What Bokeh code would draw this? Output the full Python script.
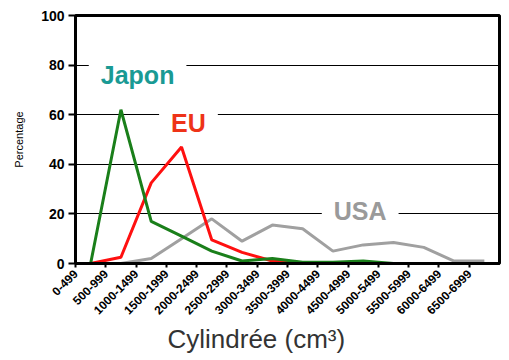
from bokeh.plotting import figure
from bokeh.models import Range1d, FixedTicker, Label, Title
from bokeh.embed import file_html
from bokeh.resources import INLINE
from math import pi

categories = ["0-499", "500-999", "1000-1499", "1500-1999", "2000-2499",
              "2500-2999", "3000-3499", "3500-3999", "4000-4499", "4500-4999",
              "5000-5499", "5500-5999", "6000-6499", "6500-6999"]
japon = [0, 62, 17, 11, 5, 1, 2, 0.5, 0.5, 1, 0, 0, 0, 0]
eu = [0, 2.5, 32.5, 47, 9.5, 4.5, 1, 0, 0, 0, 0, 0, 0, 0]
usa = [0, 0, 2, 10, 18, 9, 15.5, 14, 5, 7.5, 8.5, 6.5, 1, 1]
y_ticks = [0, 20, 40, 60, 80, 100]

xs = [i + 0.5 for i in range(len(categories))]
FONT = "Liberation Sans"

p = figure(output_backend="svg", toolbar_location=None,
           frame_width=424, frame_height=248,
           min_border_left=75, min_border_right=2, min_border_top=15, min_border_bottom=80,
           x_range=Range1d(0, len(categories)), y_range=Range1d(0, 100))
p.background_fill_color = "white"
p.border_fill_color = "white"
p.outline_line_color = "black"
p.outline_line_width = 3

# grid
p.xgrid.grid_line_color = None
p.ygrid.ticker = FixedTicker(ticks=y_ticks)
p.ygrid.grid_line_color = "black"
p.ygrid.grid_line_width = 1

# y axis
p.yaxis.ticker = FixedTicker(ticks=y_ticks)
p.yaxis.axis_line_width = 3
p.yaxis.major_tick_out = 7
p.yaxis.major_tick_in = 0
p.yaxis.major_tick_line_width = 2
p.yaxis.minor_tick_line_color = None
p.yaxis.major_label_text_font = FONT
p.yaxis.major_label_text_font_style = "bold"
p.yaxis.major_label_text_font_size = "14px"
p.yaxis.major_label_text_color = "black"
p.yaxis.major_label_standoff = 4
p.yaxis.axis_label = "Percentage"
p.yaxis.axis_label_text_font = FONT
p.yaxis.axis_label_text_font_style = "normal"
p.yaxis.axis_label_text_font_size = "11px"
p.yaxis.axis_label_text_color = "black"
p.yaxis.axis_label_standoff = 13

# x axis
p.xaxis.ticker = FixedTicker(ticks=list(range(len(categories))))
p.xaxis.major_label_overrides = {i: c for i, c in enumerate(categories)}
p.xaxis.major_label_orientation = pi / 4
p.xaxis.axis_line_width = 3
p.xaxis.major_tick_out = 4
p.xaxis.major_tick_in = 0
p.xaxis.major_tick_line_width = 2
p.xaxis.minor_tick_line_color = None
p.xaxis.major_label_text_font = FONT
p.xaxis.major_label_text_font_style = "bold"
p.xaxis.major_label_text_font_size = "12px"
p.xaxis.major_label_text_color = "black"
p.xaxis.major_label_standoff = 4

# lines
p.line(xs, usa, line_color="#a0a0a0", line_width=3)
p.line(xs, eu, line_color="#ff1010", line_width=3)
p.line(xs, japon, line_color="#1a7f1a", line_width=3)

# series labels
for txt, x, y, col in [("Japon", 2.05, 76.0, "#1a9a94"),
                       ("EU", 3.73, 56.5, "#ee3318"),
                       ("USA", 9.4, 21.0, "#9a9a9a")]:
    lab = Label(x=x, y=y, text=txt, text_font=FONT, text_font_style="bold",
                text_font_size="25px", text_color=col, text_align="center",
                text_baseline="middle", background_fill_color="white",
                padding=12, level="underlay")
    p.add_layout(lab)

xt = Title(text="Cylindrée (cm³)", text_font=FONT, text_font_size="26px",
           text_font_style="normal", text_color="#333333", align="left",
           offset=92, standoff=0)
p.add_layout(xt, "below")

open("out.html", "w").write(file_html(p, INLINE))
